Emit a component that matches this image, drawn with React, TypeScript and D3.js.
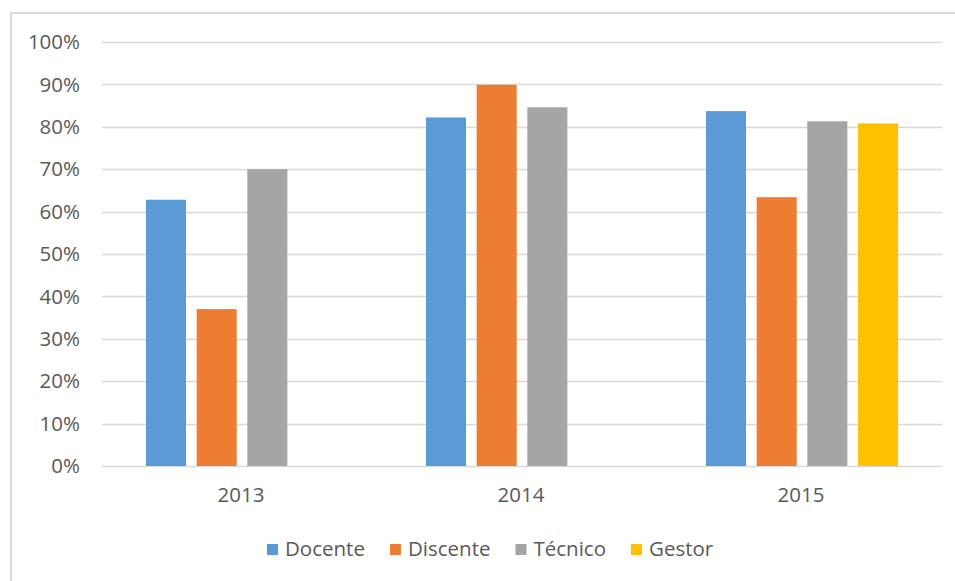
import React, { useEffect, useRef } from "react";
import * as d3 from "d3";

// Category labels, series names and values (share of respondents)
const years = ["2013", "2014", "2015"];
const seriesNames = ["Docente", "Discente", "Técnico", "Gestor"];
const seriesColors = ["#5B9BD5", "#ED7D31", "#A5A5A5", "#FFC000"];
const docente = [0.628, 0.822, 0.837];
const discente = [0.37, 0.899, 0.634];
const tecnico = [0.70, 0.846, 0.813];
const gestor = [null, null, 0.808];
const yTicks = [0, 0.1, 0.2, 0.3, 0.4, 0.5, 0.6, 0.7, 0.8, 0.9, 1.0];

const W = 955;
const H = 581;
const FONT = "'Open Sans', 'Segoe UI', sans-serif";
const TEXT = "#595959";
const FS = 20.5;

export default function App() {
  const ref = useRef<SVGSVGElement | null>(null);

  useEffect(() => {
    const svg = d3.select(ref.current);
    svg.selectAll("*").remove();

    const left = 102;
    const right = 942;
    const top = 42;
    const bottom = 466;

    // chart frame (extends beyond the visible page to the right and bottom)
    svg
      .append("path")
      .attr("d", `M11,${H + 5} L11,13 L${W + 5},13`)
      .attr("fill", "none")
      .attr("stroke", "#d9d9d9")
      .attr("stroke-width", 2);

    const y = d3.scaleLinear().domain([0, 1]).range([bottom, top]);
    const x0 = d3
      .scaleBand<string>()
      .domain(years)
      .range([left, right])
      .paddingInner(0.314)
      .paddingOuter(0.157);
    const x1 = d3
      .scaleBand<string>()
      .domain(seriesNames)
      .range([0, x0.bandwidth()])
      .paddingInner(0.21)
      .paddingOuter(0);

    // gridlines
    svg
      .append("g")
      .selectAll("line")
      .data(yTicks)
      .join("line")
      .attr("x1", left)
      .attr("x2", right)
      .attr("y1", (d) => Math.round(y(d)) + 0.5)
      .attr("y2", (d) => Math.round(y(d)) + 0.5)
      .attr("stroke", "#d9d9d9")
      .attr("stroke-width", 1.5);

    // y tick labels
    const fmt = d3.format(".0%");
    svg
      .append("g")
      .selectAll("text")
      .data(yTicks)
      .join("text")
      .attr("x", 80)
      .attr("y", (d) => y(d))
      .attr("dy", "0.35em")
      .attr("text-anchor", "end")
      .attr("font-family", FONT)
      .attr("font-size", FS)
      .attr("fill", TEXT)
      .text((d) => fmt(d));

    // bars
    const series = [docente, discente, tecnico, gestor];
    const groups = svg
      .append("g")
      .selectAll("g")
      .data(years)
      .join("g")
      .attr("transform", (d) => `translate(${x0(d)},0)`);
    groups
      .selectAll("rect")
      .data((_, i) =>
        seriesNames
          .map((name, s) => ({ name, s, v: series[s][i] }))
          .filter((d) => d.v != null)
      )
      .join("rect")
      .attr("x", (d) => x1(d.name)!)
      .attr("width", x1.bandwidth())
      .attr("y", (d) => y(d.v as number))
      .attr("height", (d) => bottom - y(d.v as number))
      .attr("fill", (d) => seriesColors[d.s]);

    // x labels
    svg
      .append("g")
      .selectAll("text")
      .data(years)
      .join("text")
      .attr("x", (d) => x0(d)! + x0.bandwidth() / 2 - 1)
      .attr("y", 502)
      .attr("text-anchor", "middle")
      .attr("font-family", FONT)
      .attr("font-size", FS)
      .attr("fill", TEXT)
      .text((d) => d);

    // legend
    const legend = svg.append("g");
    let lx = 267;
    seriesNames.forEach((name, i) => {
      legend
        .append("rect")
        .attr("x", lx)
        .attr("y", 544)
        .attr("width", 11)
        .attr("height", 11)
        .attr("fill", seriesColors[i]);
      const t = legend
        .append("text")
        .attr("x", lx + 18)
        .attr("y", 556)
        .attr("font-family", FONT)
        .attr("font-size", FS)
        .attr("fill", TEXT)
        .text(name);
      const w = (t.node() as SVGTextElement).getComputedTextLength();
      lx += 18 + w + 25;
    });
  }, []);

  return (
    <svg
      ref={ref}
      width={W}
      height={H}
      style={{ position: "absolute", left: 0, top: 0, background: "#fff" }}
    />
  );
}
